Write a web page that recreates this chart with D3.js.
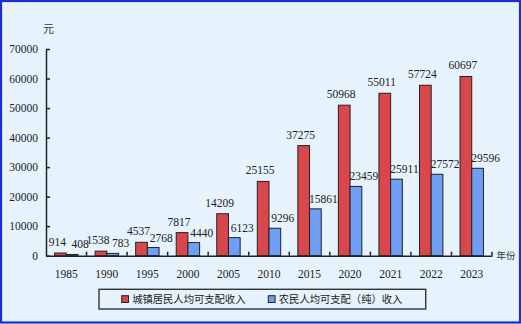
<!DOCTYPE html>
<html><head><meta charset="utf-8">
<script src="https://cdn.jsdelivr.net/npm/d3@7/dist/d3.min.js"></script>
<style>
html,body{margin:0;padding:0;background:#e6f3fd;}
svg{display:block;}
</style></head>
<body>
<svg id="c" width="521" height="324"></svg>
<script>
const years = ["1985","1990","1995","2000","2005","2010","2015","2020","2021","2022","2023"];
const urban = [914,1538,4537,7817,14209,25155,37275,50968,55011,57724,60697];
const rural = [408,783,2768,4440,6123,9296,15861,23459,25911,27572,29596];
const yTicks = [0,10000,20000,30000,40000,50000,60000,70000];
const seriesNames = ["城镇居民人均可支配收入","农民人均可支配（纯）收入"];
const colors = ["#d9464b","#6e9ff4"];

const svg = d3.select("#c");
const W=521,H=324;
svg.append("rect").attr("x",1).attr("y",1).attr("width",W-2).attr("height",H-2.5)
  .attr("fill","#e6f3fd").attr("stroke","#1b2fd1").attr("stroke-width",2.2);

const x0=46, x1=492, yb=255.7, yt=49;
const x = d3.scaleBand().domain(years).range([x0,x1]).padding(0);
const y = d3.scaleLinear().domain([0,70000]).range([yb,yt]);
const bw = 11.7;
const serif = "'Times New Roman','Liberation Serif',serif";
const cjk = "'Liberation Serif','Noto Sans CJK SC',serif";

// bars
const g = svg.append("g");
const data = years.map((yr,i)=>({yr,u:urban[i],r:rural[i]}));
g.selectAll("rect.u").data(data).join("rect")
  .attr("x",d=>x(d.yr)+x.bandwidth()/2-bw).attr("y",d=>y(d.u))
  .attr("width",bw).attr("height",d=>yb-y(d.u))
  .attr("fill",colors[0]).attr("stroke","#222").attr("stroke-width",1);
g.selectAll("rect.r").data(data).join("rect")
  .attr("x",d=>x(d.yr)+x.bandwidth()/2).attr("y",d=>y(d.r))
  .attr("width",bw).attr("height",d=>yb-y(d.r))
  .attr("fill",colors[1]).attr("stroke","#222").attr("stroke-width",1);

// value labels
g.selectAll("text.u").data(data).join("text")
  .attr("x",d=>x(d.yr)+x.bandwidth()/2-bw/2-3).attr("y",d=>y(d.u)-7)
  .attr("text-anchor","middle").attr("font-family",serif).attr("font-size",11.5)
  .attr("fill","#222").text(d=>d.u);
g.selectAll("text.r").data(data).join("text")
  .attr("x",d=>x(d.yr)+x.bandwidth()/2+bw/2+8).attr("y",d=>y(d.r)-6)
  .attr("text-anchor","middle").attr("font-family",serif).attr("font-size",11.5)
  .attr("fill","#222").text(d=>d.r);

// y axis
const ya = svg.append("g").attr("transform",`translate(${x0},0)`)
  .call(d3.axisRight(y).tickValues(yTicks).tickSize(4).tickSizeOuter(0).tickFormat(d3.format("d")));
ya.select(".domain").attr("stroke","#222").attr("stroke-width",1.5);
ya.selectAll(".tick line").attr("stroke","#222").attr("stroke-width",1.5);
ya.selectAll(".tick text").attr("x",-8).attr("text-anchor","end")
  .attr("font-family",serif).attr("font-size",11.5).attr("fill","#222");

// x axis
const xa = svg.append("g").attr("transform",`translate(0,${yb})`)
  .call(d3.axisBottom(x).tickSize(0).tickSizeOuter(0));
xa.select(".domain").attr("stroke","#222").attr("stroke-width",1.5);
xa.selectAll(".tick text").attr("y",14).attr("font-family",serif).attr("font-size",11.5).attr("fill","#222");
// boundary ticks
const bounds = years.slice(1).map(v=>x(v)).concat([x1]);
svg.append("g").selectAll("line").data(bounds).join("line")
  .attr("x1",d=>d).attr("x2",d=>d).attr("y1",yb).attr("y2",yb-4)
  .attr("stroke","#222").attr("stroke-width",1.5);

svg.append("text").attr("x",43).attr("y",33).attr("font-family",cjk).attr("font-size",11)
  .attr("fill","#333").text("元");
svg.append("text").attr("x",496.5).attr("y",258.5).attr("font-family",cjk).attr("font-size",9.5)
  .attr("fill","#333").text("年份");

// legend
svg.append("rect").attr("x",99).attr("y",289.3).attr("width",326.7).attr("height",19.7)
  .attr("fill","none").attr("stroke","#333").attr("stroke-width",1.4);
const legX = [121.7,268.3];
seriesNames.forEach((s,i)=>{
  svg.append("rect").attr("x",legX[i]).attr("y",295.7).attr("width",6.8).attr("height",6.8)
    .attr("fill",colors[i]).attr("stroke","#222").attr("stroke-width",1);
  svg.append("text").attr("x",legX[i]+10.5).attr("y",303.3).attr("font-family",cjk)
    .attr("font-size",10.3).attr("fill","#222").text(s);
});
</script>
</body></html>
